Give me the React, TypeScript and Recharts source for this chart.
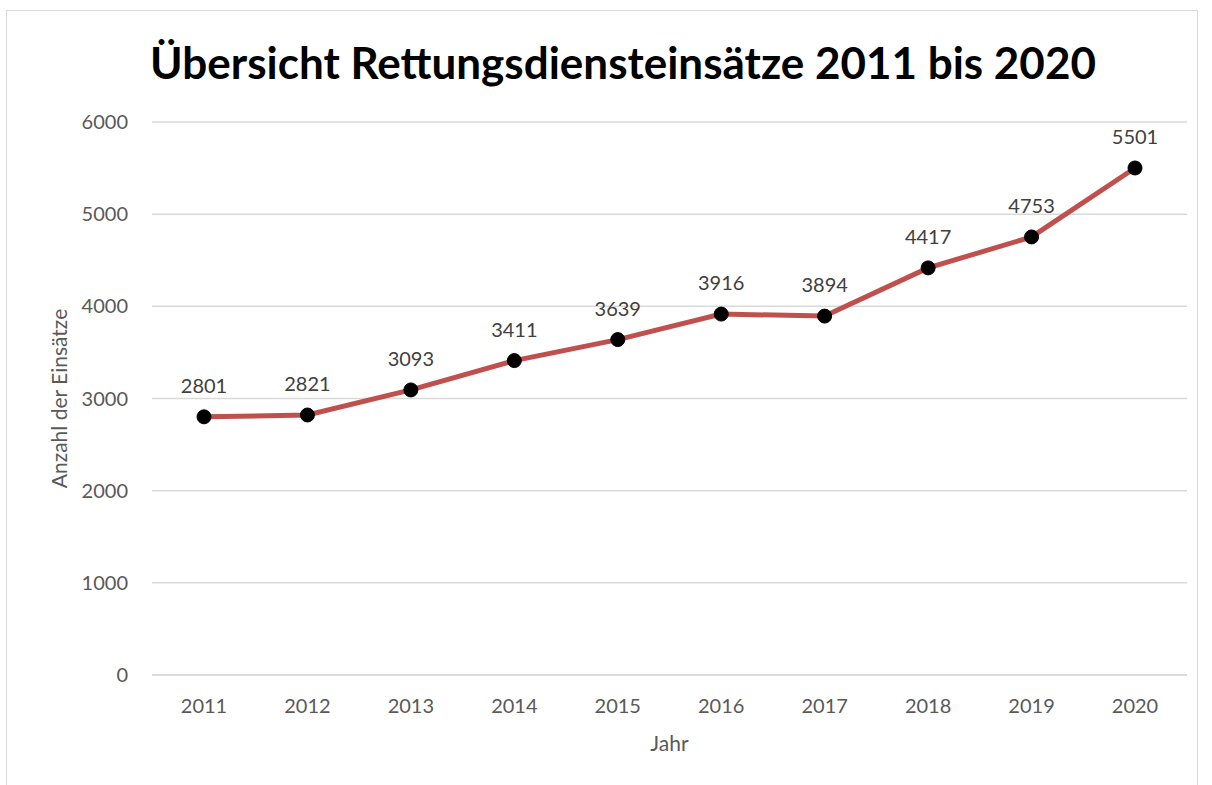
import { CartesianGrid, LabelList, Line, LineChart, XAxis, YAxis, Label } from "recharts";

const years = ["2011", "2012", "2013", "2014", "2015", "2016", "2017", "2018", "2019", "2020"];
const einsaetze = [2801, 2821, 3093, 3411, 3639, 3916, 3894, 4417, 4753, 5501];
const yTicks = [0, 1000, 2000, 3000, 4000, 5000, 6000];

const data = years.map((year, i) => ({ year, value: einsaetze[i] }));

const font = "Lato, 'Open Sans', sans-serif";

export default function App() {
  return (
    <div style={{ position: "fixed", left: 0, top: 0, width: 1212, height: 785, background: "#fff", fontFamily: font }}>
      <div
        style={{
          position: "absolute",
          left: 6,
          top: 10,
          width: 1192,
          height: 790,
          border: "1px solid #D9D9D9",
          boxSizing: "border-box"
        }}
      />
      <div
        style={{
          position: "absolute",
          left: 0,
          width: 1246,
          top: 36,
          textAlign: "center",
          fontSize: 44,
          fontWeight: 700,
          color: "#000"
        }}
      >
        Übersicht Rettungsdiensteinsätze 2011 bis 2020
      </div>
      <LineChart
        width={1212}
        height={785}
        data={data}
        margin={{ top: 122, right: 25, bottom: 60, left: 72 }}
        style={{ position: "absolute", left: 0, top: 0 }}
      >
        <CartesianGrid vertical={false} stroke="#D9D9D9" strokeWidth={1.5} />
        <XAxis
          dataKey="year"
          height={50}
          padding={{ left: 52, right: 52 }}
          axisLine={{ stroke: "#D9D9D9", strokeWidth: 1.5 }}
          tickLine={false}
          tickSize={0}
          tickMargin={24}
          tick={{ fill: "#595959", fontSize: 20, fontFamily: font }}
        >
          <Label value="Jahr" position="insideBottom" offset={-26} fill="#595959" fontSize={21} fontFamily={font} />
        </XAxis>
        <YAxis
          domain={[0, 6000]}
          ticks={yTicks}
          width={80}
          axisLine={false}
          tickLine={false}
          tickSize={0}
          tickMargin={24}
          tick={{ fill: "#595959", fontSize: 20, fontFamily: font }}
        >
          <Label
            value="Anzahl der Einsätze"
            angle={-90}
            position="insideLeft"
            offset={-12}
            style={{ textAnchor: "middle" }}
            fill="#595959"
            fontSize={21}
            fontFamily={font}
          />
        </YAxis>
        <Line
          type="linear"
          dataKey="value"
          stroke="#C0504D"
          strokeWidth={5}
          dot={{ r: 7, fill: "#000", stroke: "#000", strokeWidth: 1 }}
          activeDot={false}
          isAnimationActive={false}
        >
          <LabelList dataKey="value" position="top" offset={24} fill="#404040" fontSize={20} fontFamily={font} />
        </Line>
      </LineChart>
    </div>
  );
}
